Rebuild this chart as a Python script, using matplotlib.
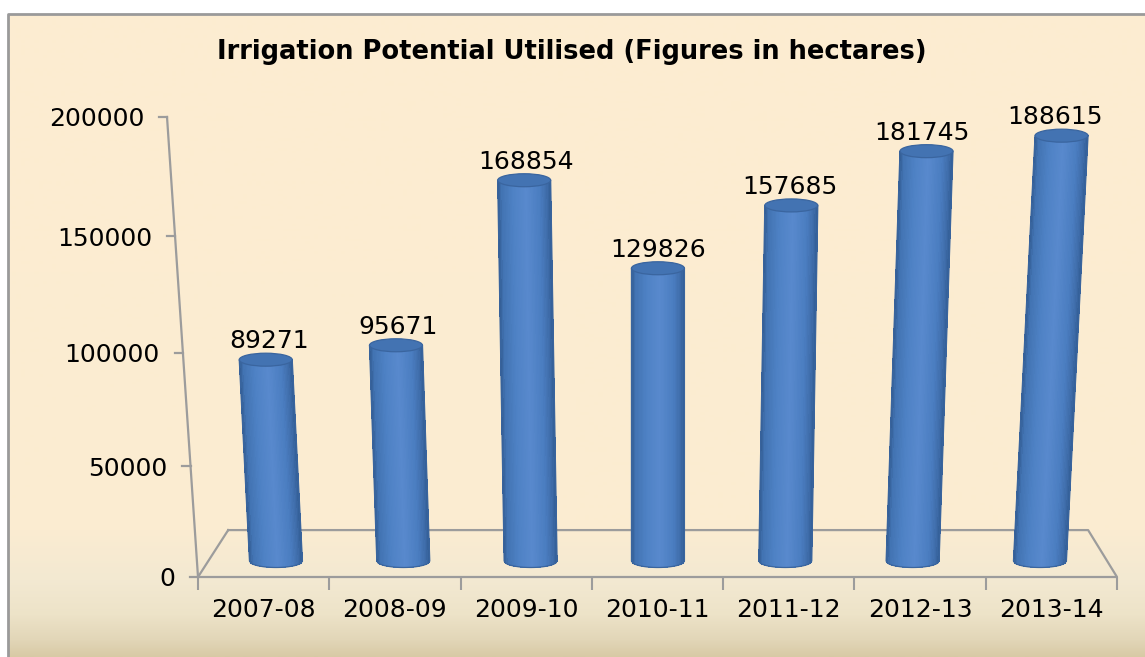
import numpy as np
import matplotlib
matplotlib.use('Agg')
import matplotlib.pyplot as plt
from matplotlib.collections import PolyCollection
from matplotlib.patches import Ellipse, Polygon
from matplotlib.colors import to_rgb

# data
years = ['2007-08', '2008-09', '2009-10', '2010-11', '2011-12', '2012-13', '2013-14']
hectares = [89271, 95671, 168854, 129826, 157685, 181745, 188615]
yticks = [0, 50000, 100000, 150000, 200000]
title = 'Irrigation Potential Utilised (Figures in hectares)'

W, H = 1145, 657
CURVE = 2.75e-7      # slight perspective stretch of the value axis
PERSP = 3.0e-7       # lean of the cylinders away from the middle
AXCOL = '#9C9C9C'
FS = 18


def fwd(y):
    y = np.asarray(y, dtype=float)
    return y + CURVE * y ** 2


def inv(f):
    f = np.asarray(f, dtype=float)
    return (np.sqrt(np.maximum(1 + 4 * CURVE * f, 0)) - 1) / (2 * CURVE)


def fig_rect(left, top, right, bottom):
    return [left / W, 1 - bottom / H, (right - left) / W, (bottom - top) / H]


def main():
    fig = plt.figure(figsize=(W / 100, H / 100), dpi=100)
    fig.patch.set_facecolor('white')

    # background with the brownish fade at the bottom
    bg = fig.add_axes([0, 0, 1, 1])
    bg.set_xlim(0, W)
    bg.set_ylim(H, 0)
    bg.axis('off')
    rows = np.arange(14, H + 1)
    stops_y = [14, 530, 580, 615, 640, 657]
    stops_c = [to_rgb(c) for c in ['#FDEDD1', '#FBECD1', '#F3E9D2', '#EDE3C8', '#E2D6B8', '#D8CAA5']]
    grad = np.stack([np.interp(rows, stops_y, [c[k] for c in stops_c]) for k in range(3)], axis=-1)
    bg.imshow(grad[:, None, :], extent=[8, W, H, 14], aspect='auto', interpolation='bilinear')
    bg.plot([8, 8, W], [H, 14, 14], color='#9A9A9A', lw=2, solid_capstyle='butt')

    # main axes: value scale, floor and category labels
    ax = fig.add_axes(fig_rect(198, 117, 1117, 577))
    ax.patch.set_visible(False)
    for s in ax.spines.values():
        s.set_visible(False)
    ax.set_yscale('function', functions=(fwd, inv))
    ax.set_xlim(-0.5, len(years) - 0.5)
    ax.set_ylim(0, 200000)
    ax.set_yticks([])
    ax.set_xticks(range(len(years)))
    ax.set_xticklabels(years, fontsize=FS)
    ax.tick_params(axis='x', which='major', length=0, pad=15)
    ax.set_xticks(np.arange(-0.5, len(years), 1), minor=True)
    ax.tick_params(axis='x', which='minor', length=9, width=1.5, color=AXCOL)

    # floor (x in data, y in axes fraction)
    tr = ax.get_xaxis_transform()
    x0, x1 = -0.5, len(years) - 0.5
    ax.plot([x0 + 0.23, x0, x1, x1 - 0.22, x0 + 0.23], [0.102, 0, 0, 0.102, 0.102],
            transform=tr, color=AXCOL, lw=1.6, clip_on=False)

    # slanted value axis
    lean = 0.236
    top = fwd(yticks[-1])
    ax.plot([x0, x0 - lean], [0, 1], transform=tr, color=AXCOL, lw=1.6, clip_on=False)
    for v in yticks:
        xa = x0 - lean * fwd(v) / top
        ax.plot([xa - 0.062, xa], [v, v], color=AXCOL, lw=1.6, clip_on=False)
        ax.annotate(str(v), (xa, v), xytext=(-16.5, -1.5), textcoords='offset points',
                    ha='right', va='center', fontsize=FS, annotation_clip=False)

    # bar plane (mid depth of the floor)
    bx = fig.add_axes(fig_rect(212.3, 110, 1103.6, 561))
    bx.axis('off')
    bx.set_xlim(-0.5, len(years) - 0.5)
    bx.set_ylim(0, 200000)

    w = 0.416
    b = 2880.0
    nstrip = 40
    cu = [0, 0.08, 0.3, 0.55, 0.8, 0.93, 1]
    cc = [to_rgb(c) for c in ['#30598F', '#4273B2', '#4E82C5', '#5889CD', '#4A7DC0', '#3F6DAA', '#335E96']]
    u = np.linspace(0, 1, nstrip + 1)
    um = (u[:-1] + u[1:]) / 2
    cols = np.stack([np.interp(um, cu, [c[k] for c in cc]) for k in range(3)], axis=-1)
    curve = b * np.sqrt(np.clip(1 - (2 * u - 1) ** 2, 0, 1))

    for i, v in enumerate(hectares):
        dx = (i - 3) * v * PERSP
        xb = i - w / 2 + u * w
        xt = xb + dx
        polys = []
        for k in range(nstrip):
            polys.append([(xb[k], -curve[k]), (xb[k + 1], -curve[k + 1]),
                          (xt[k + 1], v), (xt[k], v)])
        pc = PolyCollection(polys, facecolors=cols, edgecolors='none',
                            antialiaseds=False, clip_on=False)
        bx.add_collection(pc)
        outline = list(zip(xb, -curve)) + [(xt[-1], v), (xt[0], v)]
        bx.add_patch(Polygon(outline, closed=True, fill=False, edgecolor='#3A659E',
                             lw=0.9, clip_on=False))
        bx.add_patch(Ellipse((i + dx, v), w, 2 * b, facecolor='#4373B2',
                             edgecolor='#3A659F', lw=0.9, clip_on=False))
        bx.annotate(str(v), (i + 0.7 * dx, v + b), xytext=(0, 0), textcoords='offset points',
                    ha='center', va='bottom', fontsize=FS, annotation_clip=False)

    fig.text(572 / W, 1 - 52 / H, title, ha='center', va='center',
             fontsize=18.5, fontweight='bold')

    fig.savefig('out.png', dpi=100, facecolor=fig.get_facecolor())


if __name__ == '__main__':
    main()
